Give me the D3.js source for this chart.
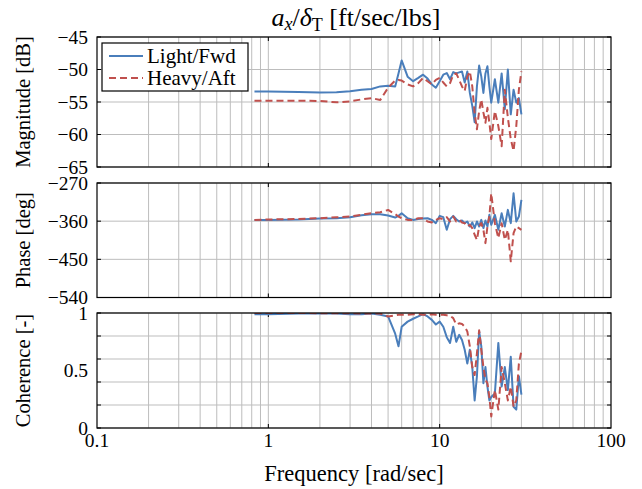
<!DOCTYPE html>
<html><head><meta charset="utf-8">
<script src="https://cdn.jsdelivr.net/npm/d3@7"></script>
<style>
body{margin:0;background:#fff}
svg{display:block}
</style>
</head><body>
<svg id="chart" width="642" height="489" font-family="'Liberation Serif','Times New Roman',serif"></svg>
<script>
// ---------------- data ----------------
const freq = [0.83,1,1.5,2,2.5,3,3.5,4,4.5,5,
  5.5,5.75,6,6.5,7,7.5,8,8.5,9,9.5,
  10,10.5,11,11.5,12,12.5,13,13.5,14,14.5,
  15,15.5,16,16.5,17,17.5,18,18.5,19,19.5,
  20,21,22,23,24,25,26,27,28,29,30];

const magLight = [-53.4,-53.4,-53.45,-53.55,-53.5,-53.35,-53.1,-53.0,-52.6,-52.5,
  -52.6,-50.6,-48.6,-51.1,-51.8,-51.3,-50.8,-51.4,-52.3,-52.8,
  -51.8,-50.8,-50.55,-51.5,-50.4,-50.6,-50.45,-50.3,-52.0,-50.3,
  -53.6,-55.6,-58.1,-52.6,-49.4,-51.1,-53.6,-50.6,-49.5,-52.6,
  -55.1,-51.5,-55.1,-50.6,-56.1,-50.0,-56.9,-53.1,-55.1,-54.4,-56.9];

const magHeavy = [-54.8,-54.8,-54.8,-54.85,-55.05,-54.9,-54.6,-54.4,-54.7,-52.8,
  -51.7,-51.6,-51.7,-52.3,-52.6,-52.1,-51.3,-51.8,-52.3,-51.6,
  -51.3,-52.0,-52.6,-52.1,-50.8,-50.6,-51.6,-52.6,-53.3,-51.1,
  -50.3,-52.6,-56.7,-59.2,-56.4,-54.6,-56.6,-58.2,-55.9,-58.2,
  -60.7,-56.4,-58.7,-61.8,-53.1,-57.4,-60.7,-62.5,-58.7,-53.1,-50.3];

const phaseLight = [-357,-357,-356,-354,-353,-351,-346,-343.6,-343.6,-346.7,
  -351.5,-347.5,-341.2,-353,-357,-355,-353.8,-353,-357,-364.7,
  -347.5,-350.6,-380.4,-355.3,-347.5,-355.3,-360.8,-358.4,-364.7,-360.8,
  -372.5,-363,-376.4,-360.8,-372.5,-357,-376.4,-358.4,-372.5,-345.1,
  -368.6,-345.1,-380.4,-341.2,-372.5,-333.4,-364.7,-294.3,-360.8,-349,-310];

const phaseHeavy = [-357,-356,-355,-353,-351,-349,-345,-341,-339,-333.6,
  -343.6,-349,-353,-357,-357,-353,-353,-360.8,-363,-357,
  -353,-355.3,-350.6,-360.8,-349,-360.8,-357,-363,-364.7,-372.5,
  -368.6,-376.4,-392,-404,-372.5,-364.7,-380.4,-411.8,-372.5,-349,
  -294.3,-364.7,-400,-364.7,-404,-380.4,-454.7,-388,-372.5,-376.4,-380.4];

const cohLight = [0.99,0.99,0.995,0.995,0.995,0.99,0.99,0.995,0.985,0.97,
  0.82,0.71,0.88,0.925,0.95,0.97,0.99,0.97,0.94,0.90,
  0.925,0.88,0.79,0.74,0.88,0.75,0.81,0.765,0.68,0.56,
  0.68,0.53,0.24,0.45,0.84,0.71,0.39,0.53,0.36,0.24,
  0.27,0.30,0.74,0.36,0.53,0.33,0.62,0.185,0.16,0.45,0.29];

const cohHeavy = [1.0,1.0,1.0,0.998,0.998,0.998,0.995,0.995,0.995,0.97,
  0.98,0.985,0.985,0.985,0.99,0.99,0.985,0.985,0.99,0.985,
  0.985,0.985,0.98,0.975,0.955,0.90,0.91,0.905,0.88,0.84,
  0.71,0.53,0.46,0.65,0.85,0.68,0.53,0.42,0.39,0.27,
  0.10,0.33,0.16,0.53,0.39,0.24,0.36,0.185,0.24,0.56,0.67];

const seriesNames = ["Light/Fwd","Heavy/Aft"];
const freqTicks = [0.1,1,10,100];
const freqTickLabels = ["0.1","1","10","100"];
const magTicks = [-65,-60,-55,-50,-45];
const magTickLabels = ["\u221265","\u221260","\u221255","\u221250","\u221245"];
const phaseTicks = [-540,-450,-360,-270];
const phaseTickLabels = ["\u2212540","\u2212450","\u2212360","\u2212270"];
const cohGrid = [0,0.2,0.4,0.6,0.8,1];
const cohTicks = [0,0.5,1];
const cohTickLabels = ["0","0.5","1"];

// ---------------- drawing ----------------
const svg = d3.select("#chart");
const X0 = 97, X1 = 611;
const x = d3.scaleLog().domain([0.1,100]).range([X0,X1]);
const minor = [];
[0.1,1,10].forEach(d => { for (let k=2;k<=9;k++) minor.push(d*k); });

const colors = ["#4a7ebb","#c0504d"];
const FS_TICK = 19.5, FS_YLABEL = 20.5, FS_XLABEL = 22.5;
const GRID = "#bdbdbd";

const panels = [
  {y0:37, y1:167, dom:[-65,-45], grid:magTicks, ticks:magTicks, labels:magTickLabels,
   title:"Magnitude [dB]", data:[magLight,magHeavy]},
  {y0:183, y1:297.5, dom:[-540,-270], grid:phaseTicks, ticks:phaseTicks, labels:phaseTickLabels,
   title:"Phase [deg]", data:[phaseLight,phaseHeavy]},
  {y0:313, y1:428, dom:[0,1], grid:cohGrid, ticks:cohTicks, labels:cohTickLabels,
   title:"Coherence [-]", data:[cohLight,cohHeavy]}
];

panels.forEach((p,pi) => {
  const y = d3.scaleLinear().domain(p.dom).range([p.y1,p.y0]);
  const g = svg.append("g");
  const cid = "clip"+pi;
  svg.append("clipPath").attr("id",cid).append("rect")
    .attr("x",X0).attr("y",p.y0).attr("width",X1-X0).attr("height",p.y1-p.y0);

  g.selectAll(".vm").data(minor.concat([1,10])).enter().append("line")
    .attr("x1",d=>x(d)).attr("x2",d=>x(d)).attr("y1",p.y0).attr("y2",p.y1)
    .attr("stroke",GRID).attr("stroke-width",1);
  g.selectAll(".hg").data(p.grid).enter().append("line")
    .attr("x1",X0).attr("x2",X1).attr("y1",d=>y(d)).attr("y2",d=>y(d))
    .attr("stroke",GRID).attr("stroke-width",1);

  [1,10].forEach(d => {
    g.append("line").attr("x1",x(d)).attr("x2",x(d)).attr("y1",p.y0).attr("y2",p.y0+4).attr("stroke","#000");
    g.append("line").attr("x1",x(d)).attr("x2",x(d)).attr("y1",p.y1).attr("y2",p.y1-4).attr("stroke","#000");
  });
  p.grid.forEach(d => {
    g.append("line").attr("x1",X0).attr("x2",X0+4).attr("y1",y(d)).attr("y2",y(d)).attr("stroke","#000");
    g.append("line").attr("x1",X1).attr("x2",X1-4).attr("y1",y(d)).attr("y2",y(d)).attr("stroke","#000");
  });

  const line = d3.line().x((d,i)=>x(freq[i])).y(d=>y(d));
  p.data.forEach((arr,si) => {
    g.append("path").datum(arr).attr("d",line)
      .attr("clip-path","url(#"+cid+")")
      .attr("fill","none").attr("stroke",colors[si]).attr("stroke-width",2)
      .attr("stroke-linejoin","round")
      .attr("stroke-dasharray", si===1 ? "7,4" : null);
  });

  g.append("rect").attr("x",X0).attr("y",p.y0).attr("width",X1-X0).attr("height",p.y1-p.y0)
    .attr("fill","none").attr("stroke","#000").attr("stroke-width",1.2);

  p.ticks.forEach((d,i) => {
    g.append("text").attr("x",88).attr("y",y(d)).attr("dy","0.35em")
      .attr("text-anchor","end").attr("font-size",FS_TICK).text(p.labels[i]);
  });

  const cy = (p.y0+p.y1)/2;
  g.append("text").attr("transform",`translate(30,${cy}) rotate(-90)`)
    .attr("text-anchor","middle").attr("font-size",FS_YLABEL).text(p.title);

  if (pi===2) {
    freqTicks.forEach((d,i) => {
      g.append("text").attr("x",x(d)).attr("y",p.y1+19).attr("text-anchor","middle")
        .attr("font-size",FS_TICK).text(freqTickLabels[i]);
    });
  }
});

svg.append("text").attr("x",(X0+X1)/2).attr("y",481).attr("text-anchor","middle")
  .attr("font-size",FS_XLABEL).text("Frequency [rad/sec]");

// title
const t = svg.append("text").attr("x",356).attr("y",26).attr("text-anchor","middle").attr("font-size",26);
t.append("tspan").attr("font-style","italic").text("a");
t.append("tspan").attr("font-style","italic").attr("font-size",18).attr("dy",4).text("x");
t.append("tspan").attr("dy",-4).text("/");
t.append("tspan").attr("font-style","italic").text("\u03b4");
t.append("tspan").attr("font-size",18).attr("dy",5).text("T");
t.append("tspan").attr("dy",-5).text(" [ft/sec/lbs]");

// legend
const lg = svg.append("g");
lg.append("rect").attr("x",102).attr("y",43).attr("width",146).attr("height",48)
  .attr("fill","#fff").attr("stroke","#000").attr("stroke-width",1.2);
seriesNames.forEach((n,i) => {
  const yy = 56 + i*22;
  lg.append("line").attr("x1",109).attr("x2",143).attr("y1",yy).attr("y2",yy)
    .attr("stroke",colors[i]).attr("stroke-width",2).attr("stroke-dasharray", i===1 ? "7,4" : null);
  lg.append("text").attr("x",147).attr("y",yy).attr("dy","0.33em").attr("font-size",21).text(n);
});
</script>
</body></html>
